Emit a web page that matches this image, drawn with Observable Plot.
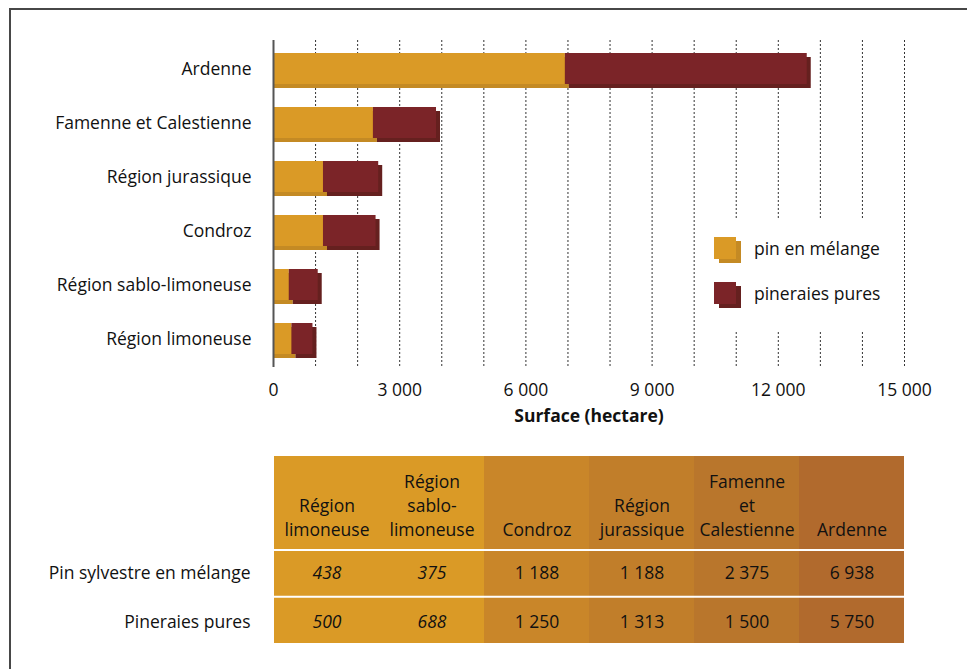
<!DOCTYPE html>
<html>
<head>
<meta charset="utf-8">
<script src="https://cdn.jsdelivr.net/npm/d3@7"></script>
<script src="https://cdn.jsdelivr.net/npm/@observablehq/plot@0.6"></script>
<style>
html, body { margin: 0; padding: 0; background: #fff; overflow: hidden; width: 967px; height: 669px; }
body { position: relative; font-family: "Open Sans", sans-serif; }
#chart svg, #table svg { display: block; }
#frame { position: absolute; left: 9px; top: 8px; width: 2000px; height: 2000px;
  border-left: 2px solid #474747; border-top: 2px solid #474747; z-index: 5; pointer-events: none; }
#legend { position: absolute; left: 700px; top: 218px; width: 190px; height: 112px; background: #fff; z-index: 3; }
.item { position: absolute; left: 14px; display: flex; align-items: center; font-size: 17.5px; color: #111; line-height: 22px; }
.sw { width: 22px; height: 22px; margin-right: 18px; }
</style>
</head>
<body>
<div id="chart"></div>
<div id="table"></div>
<div id="legend"></div>
<div id="frame"></div>
<script>
// ---- data ----
const regions = ["Région limoneuse", "Région sablo-limoneuse", "Condroz", "Région jurassique", "Famenne et Calestienne", "Ardenne"];
const headerLabels = ["Région\nlimoneuse", "Région\nsablo-\nlimoneuse", "Condroz", "Région\njurassique", "Famenne\net\nCalestienne", "Ardenne"];
const melange = [438, 375, 1188, 1188, 2375, 6938];
const pures = [500, 688, 1250, 1313, 1500, 5750];
const seriesNames = ["pin en mélange", "pineraies pures"];
const rowLabels = ["Pin sylvestre en mélange", "Pineraies pures"];
const italicRegions = ["Région limoneuse", "Région sablo-limoneuse"];
const xTicks = [0, 3000, 6000, 9000, 12000, 15000];
const gridTicks = [1000, 2000, 3000, 4000, 5000, 6000, 7000, 8000, 9000, 10000, 11000, 12000, 13000, 14000, 15000];
const axisTitle = "Surface (hectare)";

// ---- styles ----
const orange = "#DA9A26", orangeShadow = "#C48A24";
const red = "#7B2428", redShadow = "#65201F";
const colColors = ["#DA9A26", "#DA9A26", "#C98629", "#C17E2A", "#B9762C", "#B16A2D"];
const font = '"Open Sans", sans-serif';
const ink = "#111";

const fr = d3.formatLocale({decimal: ",", thousands: " ", grouping: [3], currency: ["", " €"]});
const fmt = fr.format(",d");

const bars = regions.map((r, i) => ({region: r, melange: melange[i], pures: pures[i]}));
const total = d => d.melange + d.pures;

const chart = Plot.plot({
  width: 967, height: 445,
  marginLeft: 273, marginRight: 63, marginTop: 40, marginBottom: 78,
  style: {fontFamily: font, fontSize: "17.5px", color: ink, background: "transparent"},
  x: {domain: [0, 15000]},
  y: {domain: regions.slice().reverse(), paddingInner: 0.426, paddingOuter: 0.24},
  marks: [
    Plot.ruleX(gridTicks, {stroke: "#333", strokeDasharray: "2,2", strokeWidth: 1}),
    Plot.barX(bars, {y: "region", x1: 0, x2: "melange", fill: orangeShadow, dx: 4, dy: 4, insetLeft: -4}),
    Plot.barX(bars, {y: "region", x1: "melange", x2: total, fill: redShadow, dx: 4, dy: 4}),
    Plot.barX(bars, {y: "region", x1: 0, x2: "melange", fill: orange}),
    Plot.barX(bars, {y: "region", x1: "melange", x2: total, fill: red}),
    Plot.ruleX([0], {stroke: "#555", strokeWidth: 2}),
    Plot.axisX({ticks: xTicks, tickSize: 0, tickPadding: 16, tickFormat: fmt, fontSize: 17.5, label: null}),
    Plot.axisY({tickSize: 0, tickPadding: 22, fontSize: 17.5, label: null}),
    Plot.text([axisTitle], {frameAnchor: "bottom", dy: 54, fontWeight: "bold", fontSize: 17.5, fill: ink})
  ]
});
document.getElementById("chart").append(chart);

const cells = regions.flatMap((r, i) => [
  {region: r, row: 0, v: melange[i]},
  {region: r, row: 1, v: pures[i]}
]);
const isItalic = d => italicRegions.includes(d.region);
const rowY = r => 2.5 + r * 1.04;

const table = Plot.plot({
  width: 967, height: 224,
  marginLeft: 273, marginRight: 63, marginTop: 11, marginBottom: 26,
  style: {fontFamily: font, fontSize: "17.5px", color: ink, background: "transparent"},
  x: {type: "band", domain: regions, padding: 0, axis: null},
  y: {domain: [0, 4], reverse: true, axis: null},
  marks: [
    Plot.barY(regions, {x: d => d, y1: 0, y2: 4, fill: (d, i) => colColors[i]}),
    Plot.ruleY([2, 3], {stroke: "white", strokeWidth: 2}),
    Plot.text(regions, {x: d => d, y: 2, text: (d, i) => headerLabels[i], lineAnchor: "bottom", lineHeight: 1.37, dy: -14, fontSize: 17.5, fill: ink}),
    Plot.text(cells.filter(isItalic), {x: "region", y: d => rowY(d.row), text: d => fmt(d.v), fontStyle: "italic", fontSize: 17.5, fill: ink}),
    Plot.text(cells.filter(d => !isItalic(d)), {x: "region", y: d => rowY(d.row), text: d => fmt(d.v), fontSize: 17.5, fill: ink}),
    Plot.text(rowLabels, {frameAnchor: "left", y: (d, i) => rowY(i), textAnchor: "end", dx: -23, fontSize: 17.5, fill: ink})
  ]
});
document.getElementById("table").append(table);

// legend
const legend = document.getElementById("legend");
[[orange, orangeShadow], [red, redShadow]].forEach(([c, s], i) => {
  const item = document.createElement("div");
  item.className = "item";
  item.style.top = (19 + i * 45) + "px";
  const sw = document.createElement("span");
  sw.className = "sw";
  sw.style.background = c;
  sw.style.boxShadow = `5px 4px 0 ${s}`;
  const t = document.createElement("span");
  t.textContent = seriesNames[i];
  item.append(sw, t);
  legend.append(item);
});
</script>
</body>
</html>
